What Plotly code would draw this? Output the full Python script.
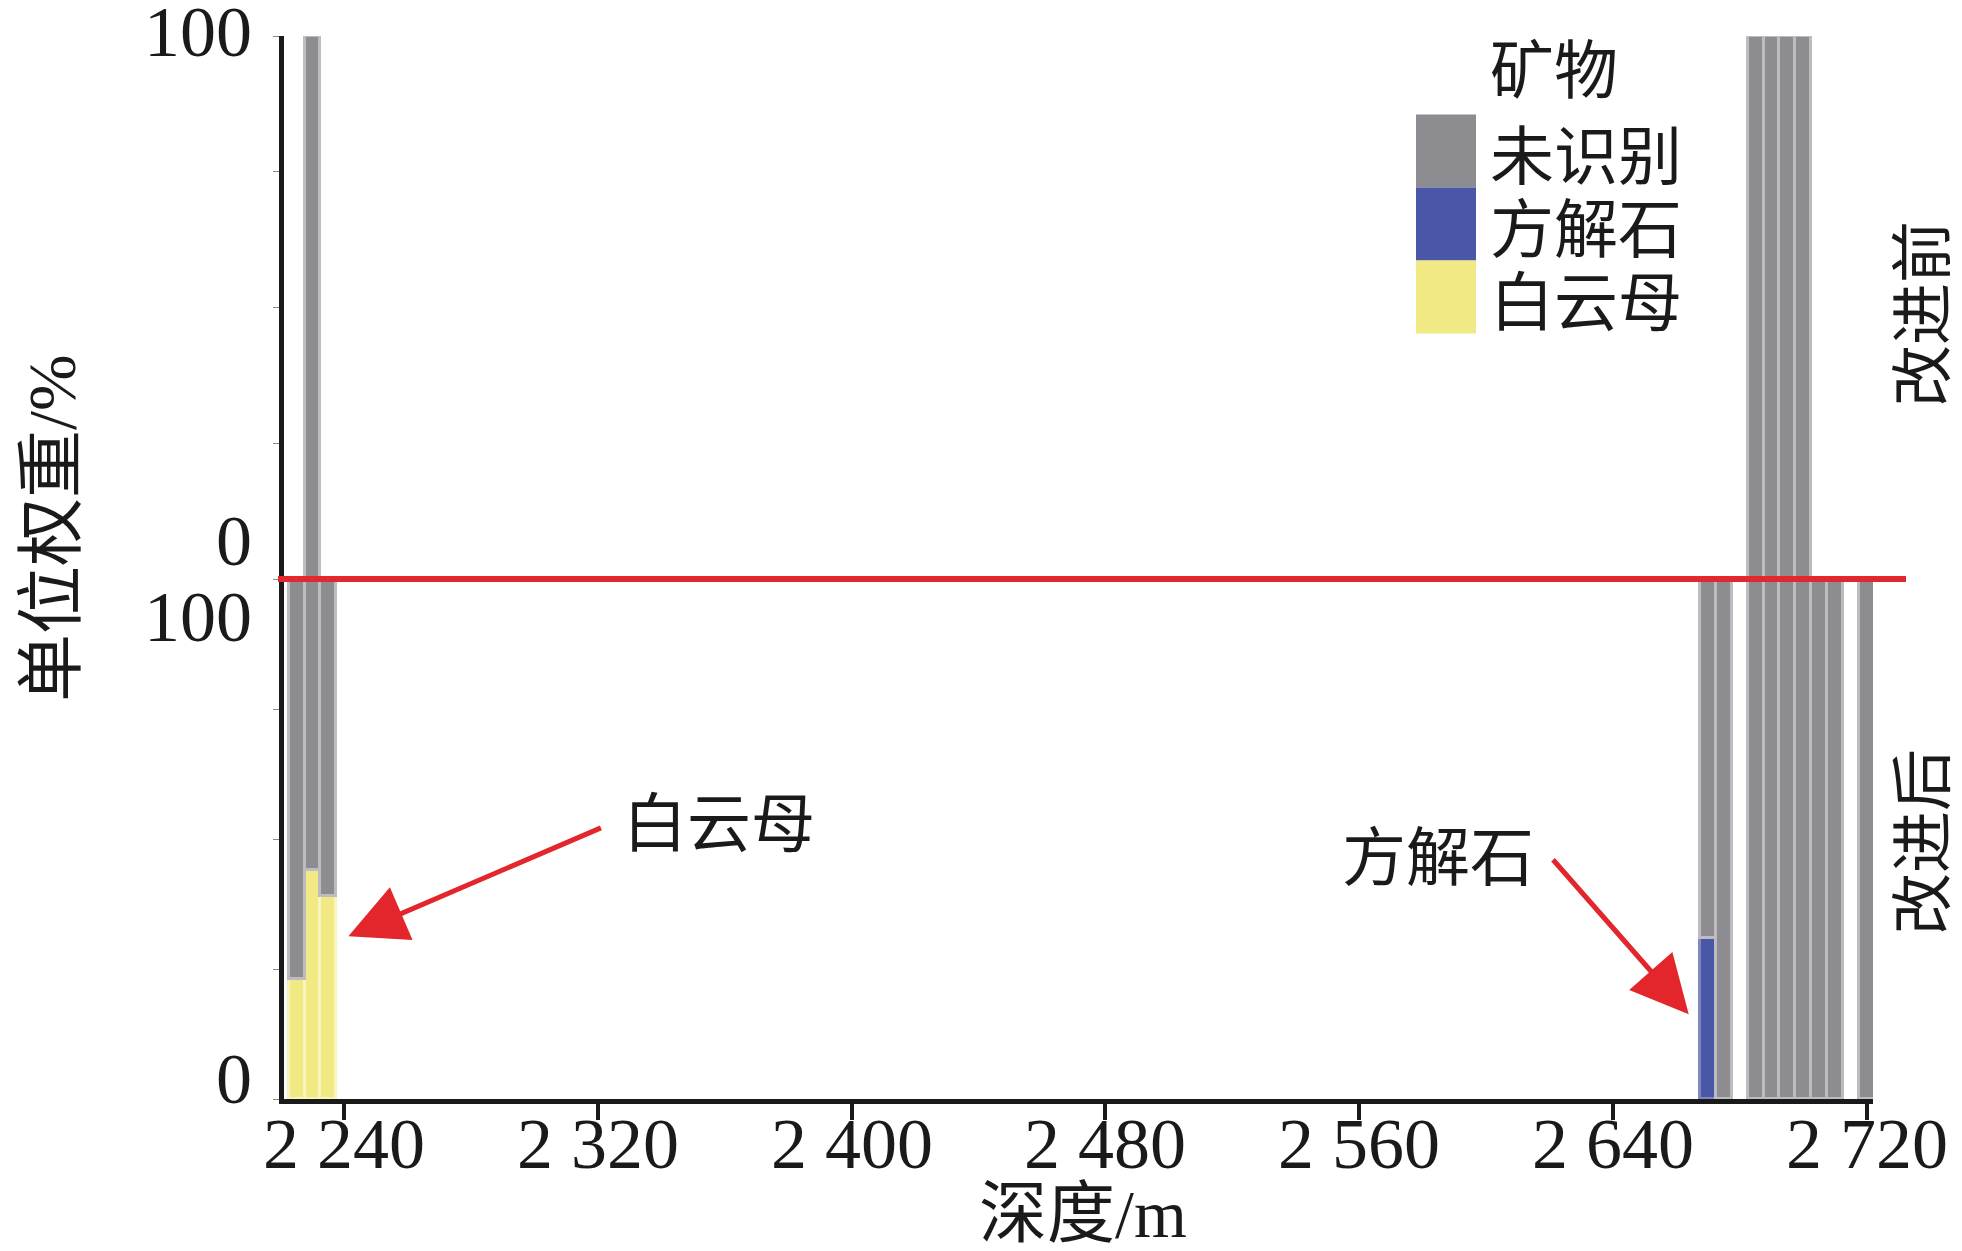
import plotly.graph_objects as go
from plotly.subplots import make_subplots

# --- data ---
minerals = ["未识别", "方解石", "白云母"]
mineral_colors = ["#8d8d91", "#4a57a6", "#f1ea84"]
edge_colors = ["#bdbdc1", "#7e89c4", "#f8f4bc"]

# before improvement (upper panel)
depth_before = [2230, 2685, 2690, 2695, 2700]
unident_before = [100, 100, 100, 100, 100]

# after improvement (lower panel)
depth_after = [2225, 2230, 2235, 2670, 2675, 2685, 2690, 2695, 2700, 2705, 2710, 2720]
muscovite_after = [23, 44, 39, 0, 0, 0, 0, 0, 0, 0, 0, 0]
calcite_after = [0, 0, 0, 31, 0, 0, 0, 0, 0, 0, 0, 0]
unident_after = [77, 56, 61, 69, 100, 100, 100, 100, 100, 100, 100, 100]

x_ticks = [2240, 2320, 2400, 2480, 2560, 2640, 2720]
x_ticktext = ["2 240", "2 320", "2 400", "2 480", "2 560", "2 640", "2 720"]
y_ticks = [0, 25, 50, 75, 100]

BAR_W = 5
SERIF = "Liberation Serif, Noto Sans CJK SC, serif"
CJK = "Noto Sans CJK SC, sans-serif"
INK = "#1a1a1a"

W, H = 1962, 1251
L, R, T, B = 276, 97, 28, 160
split = (1091 - 571) / (H - T - B)


def px_x(px):
    return (px - L) / (W - L - R)


def px_y(py):
    return (H - B - py) / (H - T - B)


def label(x, y, text, size, family=CJK, angle=0, xanchor="center"):
    fig.add_annotation(x=px_x(x), y=px_y(y), xref="paper", yref="paper",
                       xanchor=xanchor, yanchor="middle", text=text,
                       textangle=angle, showarrow=False,
                       font=dict(family=family, size=size, color=INK))


fig = make_subplots(rows=2, cols=1, shared_xaxes=True, vertical_spacing=0)

fig.add_trace(go.Bar(
    x=depth_before, y=unident_before, width=BAR_W, name=minerals[0],
    marker=dict(color=mineral_colors[0], line=dict(color=edge_colors[0], width=3)),
), row=1, col=1)

after_series = [muscovite_after, calcite_after, unident_after]
after_idx = [2, 1, 0]
for vals, i in zip(after_series, after_idx):
    fig.add_trace(go.Bar(
        x=depth_after, y=vals, width=BAR_W, name=minerals[i],
        marker=dict(color=mineral_colors[i], line=dict(color=edge_colors[i], width=3)),
    ), row=2, col=1)

axis_common = dict(showgrid=False, zeroline=False)
yaxis_common = dict(range=[0, 100], tickvals=y_ticks, showticklabels=False,
                    showline=True, linecolor=INK, linewidth=5, ticks="outside",
                    ticklen=6, tickcolor="#888888", **axis_common)
fig.update_layout(
    width=W, height=H, barmode="stack", bargap=0,
    showlegend=False, plot_bgcolor="white", paper_bgcolor="white",
    margin=dict(l=L, r=R, t=T, b=B),
    xaxis=dict(range=[2221, 2722], showline=False, showticklabels=False, ticks="",
               **axis_common),
    xaxis2=dict(range=[2221, 2722], tickvals=x_ticks, showticklabels=False,
                showline=True, linecolor=INK, linewidth=5,
                ticks="outside", ticklen=16, tickwidth=4, tickcolor=INK,
                **axis_common),
    yaxis=dict(domain=[split, 1], **yaxis_common),
    yaxis2=dict(domain=[0, split], **yaxis_common),
)

num_font = dict(family=SERIF, size=72, color=INK)

# x tick labels, placed close under the ticks as in the original
for val, txt in zip(x_ticks, x_ticktext):
    fig.add_annotation(x=val, xref="x2", y=px_y(1136), yref="paper",
                       xanchor="center", yanchor="middle", text=txt,
                       showarrow=False, font=num_font)

# y tick labels (shifted off the shared boundary like the original)
for yref, val, shift in [("y", 100, 4), ("y", 0, 38), ("y2", 100, -38), ("y2", 0, 20)]:
    fig.add_annotation(x=0, xref="paper", xanchor="right", xshift=-30,
                       y=val, yref=yref, yanchor="middle", yshift=shift, text=str(val),
                       showarrow=False, font=num_font)

# boundary line between panels
fig.add_shape(type="line", xref="paper", yref="paper",
              x0=px_x(270), x1=px_x(1898), y0=split, y1=split,
              line=dict(color="#e0282e", width=6))

# axis titles
label(44, 520, "单位权重/%", 68, family=SERIF, angle=-90)
label(1075, 1206, "深度/m", 68, family=SERIF)

# panel labels on the right
label(1910, 306, "改进前", 62, angle=-90)
label(1910, 834, "改进后", 62, angle=-90)

# callouts with red arrows
fig.add_annotation(x=2241.3, y=31.3, xref="x2", yref="y2", ax=254, ay=-109,
                   text="", showarrow=True, arrowhead=2, arrowsize=2.3,
                   arrowwidth=5, arrowcolor="#e3262b")
fig.add_annotation(x=2358, y=54, xref="x2", yref="y2", text="白云母",
                   showarrow=False, font=dict(family=CJK, size=64, color=INK))
fig.add_annotation(x=2663.9, y=16.3, xref="x2", yref="y2", ax=-137, ay=-156,
                   text="", showarrow=True, arrowhead=2, arrowsize=2.3,
                   arrowwidth=5, arrowcolor="#e3262b")
fig.add_annotation(x=2585, y=47.5, xref="x2", yref="y2", text="方解石",
                   showarrow=False, font=dict(family=CJK, size=64, color=INK))

# legend drawn by hand (large swatches like the original)
LEG_FONT = 64
row_h = 73
first_row = 143
label(1480, 57, "矿物", LEG_FONT, xanchor="left")
for k, (name, col) in enumerate(zip(minerals, mineral_colors)):
    yc = first_row + k * row_h
    fig.add_shape(type="rect", xref="paper", yref="paper",
                  x0=px_x(1408), x1=px_x(1468), y0=px_y(yc + row_h / 2),
                  y1=px_y(yc - row_h / 2), fillcolor=col, line=dict(width=0))
    label(1480, yc, name, LEG_FONT, xanchor="left")

fig.write_html("out.html")
